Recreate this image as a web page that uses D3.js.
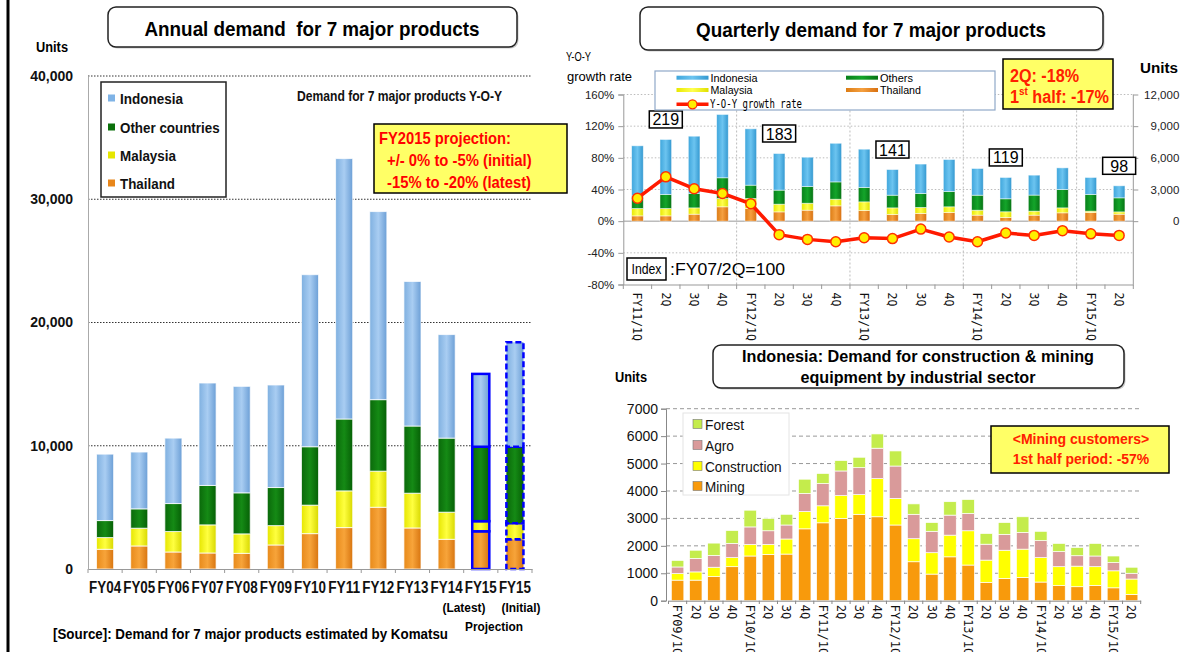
<!DOCTYPE html>
<html><head><meta charset="utf-8">
<script src="https://cdn.jsdelivr.net/npm/d3@7"></script>
<style>
body{margin:0;background:#fff;}
svg{display:block;font-family:"Liberation Sans",Arial,sans-serif;}
text{white-space:pre;}
</style></head><body>
<svg id="c" width="1190" height="652"></svg>
<script>
// ---------- DATA ----------
const annualLabels = ["FY04","FY05","FY06","FY07","FY08","FY09","FY10","FY11","FY12","FY13","FY14","FY15","FY15"];
const annualThailand  = [1600,1870,1380,1300,1270,1950,2870,3360,5010,3330,2410,3060,2410];
const annualMalaysia  = [950,1440,1660,2280,1580,1570,2310,2980,2930,2820,2200,820,1300];
const annualOthers    = [1380,1570,2270,3200,3330,3090,4740,5830,5800,5450,6010,6040,6210];
const annualIndonesia = [5390,4610,5310,8310,8640,8320,13960,21130,15260,11730,8400,5910,8480];
const annualTicks = [0,10000,20000,30000,40000];
const annualLegend = ["Indonesia","Other countries","Malaysia","Thailand"];

const qLabels = ["FY11/1Q","2Q","3Q","4Q","FY12/1Q","2Q","3Q","4Q","FY13/1Q","2Q","3Q","4Q","FY14/1Q","2Q","3Q","4Q","FY15/1Q","2Q"];
const qThailand  = [500,500,660,1360,1200,880,1040,1450,1010,630,730,820,570,350,570,790,820,660];
const qMalaysia  = [700,700,600,790,950,730,660,630,820,630,570,540,470,540,380,470,130,220];
const qOthers    = [1200,1330,1360,1960,1260,1330,1580,1640,1360,1200,1330,1450,1420,1230,1520,1740,1580,1330];
const qIndonesia = [4740,5210,5430,6000,5340,3470,2780,3660,3630,2430,2780,3030,2530,2020,1890,2050,1610,1140];
const qYoY = [29,56,41,35,22,-17,-23,-26,-21,-22,-10,-20,-26,-15,-18,-12,-16,-18];
const qIndexValues = [219,183,141,119,98];
const qIndexAt = [1,5,9,13,17];
const qLeftTicks = [-80,-40,0,40,80,120,160];
const qRightTicks = [0,3000,6000,9000,12000];

const iLabels = ["FY09/1Q","2Q","3Q","4Q","FY10/1Q","2Q","3Q","4Q","FY11/1Q","2Q","3Q","4Q","FY12/1Q","2Q","3Q","4Q","FY13/1Q","2Q","3Q","4Q","FY14/1Q","2Q","3Q","4Q","FY15/1Q","2Q"];
const iMining       = [750,750,880,1240,1630,1690,1700,2620,2840,3000,3150,3060,2760,1420,970,1600,1300,670,810,850,680,550,510,560,470,230];
const iConstruction = [240,300,340,330,420,360,550,630,620,830,720,1390,970,840,780,790,1250,810,1030,1030,890,690,750,680,620,560];
const iAgro         = [240,490,430,520,640,500,510,660,810,900,980,1110,1180,890,780,730,630,580,580,610,620,550,380,390,300,210];
const iForest       = [240,300,450,470,610,450,390,520,370,380,380,520,550,380,320,490,510,390,430,570,340,300,300,460,240,220];
const iTicks = [0,1000,2000,3000,4000,5000,6000,7000];
const iLegend = ["Forest","Agro","Construction","Mining"];

// ---------- HELPERS ----------
const svg = d3.select("#c");
const defs = svg.append("defs");
function hgrad(id, stops){
  const g = defs.append("linearGradient").attr("id",id).attr("x1",0).attr("x2",1).attr("y1",0).attr("y2",0);
  stops.forEach((c,i)=>g.append("stop").attr("offset",(i/(stops.length-1)*100)+"%").attr("stop-color",c));
}
hgrad("gBA",["#7fb0e0","#a9cdf2","#6c9fd6"]);
hgrad("gGA",["#0a690a","#158a15","#066006"]);
hgrad("gYA",["#e6e600","#ffff40","#d8d800"]);
hgrad("gOA",["#e88a1a","#f7a43a","#d87510"]);
hgrad("gBQ",["#3fa6dc","#6cc4f0","#3398d0"]);
hgrad("gGQ",["#07801a","#14a52a","#067314"]);
hgrad("gYQ",["#e8e800","#ffff50","#e0e000"]);
hgrad("gOQ",["#dc7c14","#f5a040","#d87010"]);

function txt(g,x,y,s,o={}){
  const t = g.append("text").attr("x",x).attr("y",y).text(s)
    .attr("font-size",o.size||12).attr("font-weight",o.bold?"bold":"normal")
    .attr("fill",o.fill||"#000").attr("text-anchor",o.anchor||"start")
    .attr("dominant-baseline","central");
  if(o.family) t.attr("font-family",o.family);
  if(o.len) t.attr("textLength",o.len).attr("lengthAdjust","spacingAndGlyphs");
  return t;
}
function stackRows(n, keys, arrays){
  const rows = d3.range(n).map(i=>{const r={i}; keys.forEach((k,j)=>r[k]=arrays[j][i]); return r;});
  return d3.stack().keys(keys)(rows);
}
function roundBox(g,x,y,w,h){
  g.append("rect").attr("x",x+1.5).attr("y",y+1.5).attr("width",w).attr("height",h).attr("rx",8).attr("fill","#999").attr("opacity",0.5);
  g.append("rect").attr("x",x).attr("y",y).attr("width",w).attr("height",h).attr("rx",8).attr("fill","#fff").attr("stroke","#222").attr("stroke-width",1.5);
}

// left border
svg.append("line").attr("x1",8).attr("x2",8).attr("y1",0).attr("y2",652).attr("stroke","#000").attr("stroke-width",3);

// ---------- ANNUAL CHART ----------
const L = svg.append("g");
const xA = d3.scaleBand().domain(d3.range(annualLabels.length)).range([88,532]).paddingInner(0.5).paddingOuter(0.25);
const yA = d3.scaleLinear().domain([0,40000]).range([569,76]);

L.append("g").selectAll("line").data(annualTicks.filter(d=>d>0)).join("line")
  .attr("x1",88).attr("x2",532).attr("y1",d=>yA(d)).attr("y2",d=>yA(d))
  .attr("stroke","#333").attr("stroke-width",1).attr("stroke-dasharray","1.5,1.5");

const axA = L.append("g").attr("transform","translate(88,0)")
  .call(d3.axisLeft(yA).tickValues(annualTicks).tickFormat(d3.format(",")).tickSize(0).tickPadding(15));
axA.select(".domain").attr("stroke","#aaa");
axA.selectAll("text").attr("font-size",14).attr("font-weight","bold").attr("fill","#111").attr("font-family","Liberation Sans, Arial");

const aKeys = ["Thailand","Malaysia","Others","Indonesia"];
const aFill = {Thailand:"url(#gOA)",Malaysia:"url(#gYA)",Others:"url(#gGA)",Indonesia:"url(#gBA)"};
const aSeries = stackRows(annualLabels.length, aKeys, [annualThailand,annualMalaysia,annualOthers,annualIndonesia]);
L.append("g").selectAll("g").data(aSeries).join("g").attr("fill",s=>aFill[s.key])
  .selectAll("rect").data(s=>s).join("rect")
  .attr("x",d=>xA(d.data.i)).attr("width",xA.bandwidth())
  .attr("y",d=>yA(d[1])).attr("height",d=>yA(d[0])-yA(d[1]))
  .attr("stroke",d=>d.data.i>=11?"#0000ff":"rgba(255,255,255,0.75)")
  .attr("stroke-width",d=>d.data.i>=11?2.5:1)
  .attr("stroke-dasharray",d=>d.data.i===12?"6,3":null);

// bottom axis
const axAB = L.append("g").attr("transform","translate(0,569)")
  .call(d3.axisBottom(xA).tickFormat(i=>annualLabels[i]).tickSize(0).tickPadding(13));
axAB.select(".domain").attr("stroke","#999");
axAB.selectAll("text").attr("font-size",16).attr("font-weight","bold").attr("fill","#111")
  .attr("textLength",32).attr("lengthAdjust","spacingAndGlyphs");
L.append("g").selectAll("line").data(d3.range(annualLabels.length+1)).join("line")
  .attr("x1",k=>xA.range()[0]+k*xA.step()).attr("x2",k=>xA.range()[0]+k*xA.step())
  .attr("y1",569).attr("y2",573).attr("stroke","#999");

txt(L,464,607.5,"(Latest)",{size:13,bold:true,anchor:"middle",len:43});
txt(L,521,607.5,"(Initial)",{size:13,bold:true,anchor:"middle",len:39});
txt(L,494,626.5,"Projection",{size:13,bold:true,anchor:"middle",len:58});
txt(L,53,633,"[Source]: Demand for 7 major products estimated by Komatsu",{size:15,bold:true,len:395});

// legend
L.append("rect").attr("x",101).attr("y",82).attr("width",125).attr("height",115).attr("fill","#fff").attr("stroke","#222").attr("stroke-width",1.5);
const aLegCol = ["#7fb3e6","#0b700b","#e6e600","#e8861a"];
const aLegW = [63,99.6,56,55];
annualLegend.forEach((name,i)=>{
  const y = [98,127,155,183][i];
  L.append("rect").attr("x",108).attr("y",y-3.5).attr("width",7).attr("height",7).attr("fill",aLegCol[i]);
  txt(L,120,y,name,{size:15,bold:true,len:aLegW[i],fill:"#111"});
});
txt(L,297,96,"Demand for 7 major products Y-O-Y",{size:14,bold:true,len:205,fill:"#111"});

// yellow box
L.append("rect").attr("x",374).attr("y",124).attr("width",193).attr("height",69).attr("fill","#ffff66").attr("stroke","#000").attr("stroke-width",1.5);
txt(L,379,138,"FY2015 projection:",{size:17,bold:true,fill:"#ff0000",len:132});
txt(L,387,160,"+/- 0% to -5% (initial)",{size:17,bold:true,fill:"#ff0000",len:144.6});
txt(L,387,182,"-15% to -20% (latest)",{size:17,bold:true,fill:"#ff0000",len:144});

// title
roundBox(L,108,7,409,40);
txt(L,312,28,"Annual demand  for 7 major products",{size:21,bold:true,anchor:"middle",len:335});
txt(L,36,47,"Units",{size:14,bold:true,len:32});

// ---------- QUARTERLY CHART ----------
const Q = svg.append("g");
const xQ = d3.scaleBand().domain(d3.range(qLabels.length)).range([623.3,1133.3]).paddingInner(0.59).paddingOuter(0.295);
const yL = d3.scaleLinear().domain([-80,160]).range([284.5,94.5]);
const yR = d3.scaleLinear().domain([-6000,12000]).range([284.5,94.5]);

Q.append("g").selectAll("line").data(qLeftTicks.filter(d=>d!==-80 && d!==0)).join("line")
  .attr("x1",623.3).attr("x2",1133.3).attr("y1",d=>yL(d)).attr("y2",d=>yL(d))
  .attr("stroke","#bbb").attr("stroke-dasharray","1.5,2");
Q.append("g").selectAll("line").data([4,8,12,16]).join("line")
  .attr("x1",k=>xQ.range()[0]+k*xQ.step()).attr("x2",k=>xQ.range()[0]+k*xQ.step())
  .attr("y1",94.5).attr("y2",284.5).attr("stroke","#bbb").attr("stroke-dasharray","2,2");

const axQL = Q.append("g").attr("transform","translate(623.3,0)")
  .call(d3.axisLeft(yL).tickValues(qLeftTicks).tickFormat(d=>d+"%").tickSize(5).tickPadding(4));
axQL.selectAll(".domain,.tick line").attr("stroke","#999");
axQL.selectAll("text").attr("font-size",11.5).attr("fill","#222");

const axQR = Q.append("g").attr("transform","translate(1133.3,0)")
  .call(d3.axisRight(yR).tickValues(qRightTicks).tickFormat(d3.format(",")).tickSize(5));
axQR.select(".domain").attr("stroke","#999").attr("d","M0,94.5V284.5");
axQR.selectAll(".tick line").attr("stroke","#999");
axQR.selectAll("text").attr("font-size",11.5).attr("fill","#222").attr("x",46).attr("text-anchor","end");

// zero line and bottom line
Q.append("line").attr("x1",623.3).attr("x2",1133.3).attr("y1",yL(0)).attr("y2",yL(0)).attr("stroke","#999");
const axQB = Q.append("g").attr("transform","translate(0,284.5)")
  .call(d3.axisBottom(xQ).tickFormat(i=>qLabels[i]).tickSize(0));
axQB.select(".domain").attr("stroke","#999");
axQB.selectAll("text").attr("transform","rotate(90)").attr("x",8).attr("y",0).attr("dy","0.35em")
  .attr("text-anchor","start").attr("font-size",11.5).attr("font-family","DejaVu Sans Mono, monospace").attr("fill","#111");
Q.append("g").selectAll("line").data(d3.range(qLabels.length+1)).join("line")
  .attr("x1",k=>xQ.range()[0]+k*xQ.step()).attr("x2",k=>xQ.range()[0]+k*xQ.step())
  .attr("y1",284.5).attr("y2",289).attr("stroke","#999");

const qKeys = ["Thailand","Malaysia","Others","Indonesia"];
const qFill = {Thailand:"url(#gOQ)",Malaysia:"url(#gYQ)",Others:"url(#gGQ)",Indonesia:"url(#gBQ)"};
const qSeries = stackRows(qLabels.length, qKeys, [qThailand,qMalaysia,qOthers,qIndonesia]);
Q.append("g").selectAll("g").data(qSeries).join("g").attr("fill",s=>qFill[s.key])
  .selectAll("rect").data(s=>s).join("rect")
  .attr("x",d=>xQ(d.data.i)).attr("width",xQ.bandwidth())
  .attr("y",d=>yR(d[1])).attr("height",d=>yR(d[0])-yR(d[1]))
  .attr("stroke","rgba(255,255,255,0.6)").attr("stroke-width",0.8);

const qCx = i=>xQ(i)+xQ.bandwidth()/2;
Q.append("path").datum(qYoY).attr("fill","none").attr("stroke","#ff1a00").attr("stroke-width",3.5)
  .attr("stroke-linejoin","round")
  .attr("d",d3.line().x((d,i)=>qCx(i)).y(d=>yL(d)));
Q.append("g").selectAll("circle").data(qYoY).join("circle")
  .attr("cx",(d,i)=>qCx(i)).attr("cy",d=>yL(d)).attr("r",5)
  .attr("fill","#ffee00").attr("stroke","#ff3000").attr("stroke-width",1.5);

// index boxes
const qTotals = d3.range(qLabels.length).map(i=>qThailand[i]+qMalaysia[i]+qOthers[i]+qIndonesia[i]);
qIndexValues.forEach((v,k)=>{
  const i = qIndexAt[k], cx = qCx(i), cy = yR(qTotals[i])-20;
  Q.append("rect").attr("x",cx-16.5).attr("y",cy-8.5).attr("width",33).attr("height",17).attr("fill","#fff").attr("stroke","#000").attr("stroke-width",1.5);
  txt(Q,cx,cy+0.5,String(v),{size:16,anchor:"middle"});
});
Q.append("rect").attr("x",627).attr("y",258).attr("width",39).attr("height",22).attr("fill","#fff").attr("stroke","#000").attr("stroke-width",1.5);
txt(Q,646.5,269,"Index",{size:14,anchor:"middle",len:30});
txt(Q,670,269,":FY07/2Q=100",{size:16,len:115});

// legend
Q.append("rect").attr("x",655).attr("y",71).attr("width",340).attr("height",39).attr("fill","#fff").attr("stroke","#8fa8c8").attr("stroke-width",1.2);
const qLeg = [
  {n:"Indonesia",f:"url(#gBQ)",x:676.5,y:77.7,w:47},
  {n:"Malaysia",f:"url(#gYQ)",x:676.5,y:90,w:42},
  {n:"Others",f:"url(#gGQ)",x:846,y:77.7,w:33},
  {n:"Thailand",f:"url(#gOQ)",x:846,y:90,w:41}
];
qLeg.forEach(d=>{
  Q.append("rect").attr("x",d.x).attr("y",d.y-2).attr("width",32).attr("height",4).attr("fill",d.f);
  txt(Q,d.x+34,d.y,d.n,{size:11.5,len:d.w});
});
Q.append("line").attr("x1",676.5).attr("x2",708.5).attr("y1",104.3).attr("y2",104.3).attr("stroke","#ff1a00").attr("stroke-width",3.5);
Q.append("circle").attr("cx",692.5).attr("cy",104.3).attr("r",4.5).attr("fill","#ffee00").attr("stroke","#ff3000").attr("stroke-width",1.3);
txt(Q,710,104.3,"Y-O-Y growth rate",{size:11.5,len:92,family:"DejaVu Sans Mono, monospace"});

// yellow box
Q.append("rect").attr("x",1003).attr("y",59).attr("width",110).attr("height",50).attr("fill","#ffff66").attr("stroke","#000").attr("stroke-width",1.5);
txt(Q,1010,76,"2Q: -18%",{size:18,bold:true,fill:"#ff2000",len:69});
const t2 = Q.append("text").attr("x",1010).attr("y",97).attr("dominant-baseline","central")
  .attr("font-size",18).attr("font-weight","bold").attr("fill","#ff2000")
  .attr("textLength",99).attr("lengthAdjust","spacingAndGlyphs");
t2.append("tspan").text("1");
t2.append("tspan").text("st").attr("font-size",11).attr("dy",-6);
t2.append("tspan").text(" half: -17%").attr("dy",6);

roundBox(Q,640,7,463,43);
txt(Q,871,29,"Quarterly demand for 7 major products",{size:21,bold:true,anchor:"middle",len:350});
txt(Q,566,57,"Y-O-Y",{size:12,len:25});
txt(Q,567,76,"growth rate",{size:13,len:65});
txt(Q,1140,68,"Units",{size:14,bold:true,len:38});

// ---------- INDONESIA SECTOR CHART ----------
const I = svg.append("g");
const xI = d3.scaleBand().domain(d3.range(iLabels.length)).range([668.5,1140.7]).paddingInner(0.31).paddingOuter(0.155);
const yI = d3.scaleLinear().domain([0,7000]).range([600.7,408.7]);

I.append("g").selectAll("line").data(iTicks.filter(d=>d>0)).join("line")
  .attr("x1",666).attr("x2",1140.7).attr("y1",d=>yI(d)).attr("y2",d=>yI(d))
  .attr("stroke","#999").attr("stroke-dasharray","4,3");
const axI = I.append("g").attr("transform","translate(666,0)")
  .call(d3.axisLeft(yI).tickValues(iTicks).tickFormat(d3.format("d")).tickSize(5).tickPadding(3));
axI.selectAll(".domain,.tick line").attr("stroke","#888");
axI.selectAll("text").attr("font-size",14).attr("fill","#111");

const iKeys = ["Mining","Construction","Agro","Forest"];
const iFill = {Mining:"#f89a0c",Construction:"#ffff00",Agro:"#d99a9a",Forest:"#c4ec4c"};
const iSeries = stackRows(iLabels.length, iKeys, [iMining,iConstruction,iAgro,iForest]);
I.append("g").selectAll("g").data(iSeries).join("g").attr("fill",s=>iFill[s.key])
  .selectAll("rect").data(s=>s).join("rect")
  .attr("x",d=>xI(d.data.i)).attr("width",xI.bandwidth())
  .attr("y",d=>yI(d[1])).attr("height",d=>yI(d[0])-yI(d[1]))
  .attr("stroke","#fff").attr("stroke-width",0.7);

const axIB = I.append("g").attr("transform","translate(0,600.7)")
  .call(d3.axisBottom(xI).tickFormat(i=>iLabels[i]).tickSize(0));
axIB.select(".domain").attr("stroke","#888");
axIB.selectAll("text").attr("transform","rotate(90)").attr("x",4).attr("y",0).attr("dy","0.35em")
  .attr("text-anchor","start").attr("font-size",12).attr("font-family","DejaVu Sans Mono, monospace").attr("fill","#111");
I.append("g").selectAll("line").data(d3.range(iLabels.length+1)).join("line")
  .attr("x1",k=>xI.range()[0]+k*xI.step()).attr("x2",k=>xI.range()[0]+k*xI.step())
  .attr("y1",600.7).attr("y2",604).attr("stroke","#888");

// legend
I.append("rect").attr("x",683).attr("y",413).attr("width",106).attr("height",82).attr("fill","#fff").attr("stroke","#e4e4e4");
const iLegW = [39,29,76.6,39.7];
iLegend.forEach((n,k)=>{
  const y = [424,445,466,486][k];
  I.append("rect").attr("x",693).attr("y",y-4.5).attr("width",9).attr("height",9).attr("fill",iFill[n]).attr("stroke","#777").attr("stroke-width",0.6);
  txt(I,705,y,n,{size:15,len:iLegW[k],fill:"#111"});
});

I.append("rect").attr("x",991).attr("y",426).attr("width",178).attr("height",47).attr("fill","#ffff66").attr("stroke","#000").attr("stroke-width",1.5);
txt(I,1081,438.5,"<Mining customers>",{size:15,bold:true,fill:"#ff2000",anchor:"middle",len:136.6});
txt(I,1081,458,"1st half period: -57%",{size:15,bold:true,fill:"#ff2000",anchor:"middle",len:136.6});

roundBox(I,713,345,411,43);
txt(I,918,356,"Indonesia: Demand for construction & mining",{size:16,bold:true,anchor:"middle",len:352});
txt(I,918,377,"equipment by industrial sector",{size:16,bold:true,anchor:"middle",len:235});
txt(I,615,377,"Units",{size:14,bold:true,len:32});
</script>
</body></html>
